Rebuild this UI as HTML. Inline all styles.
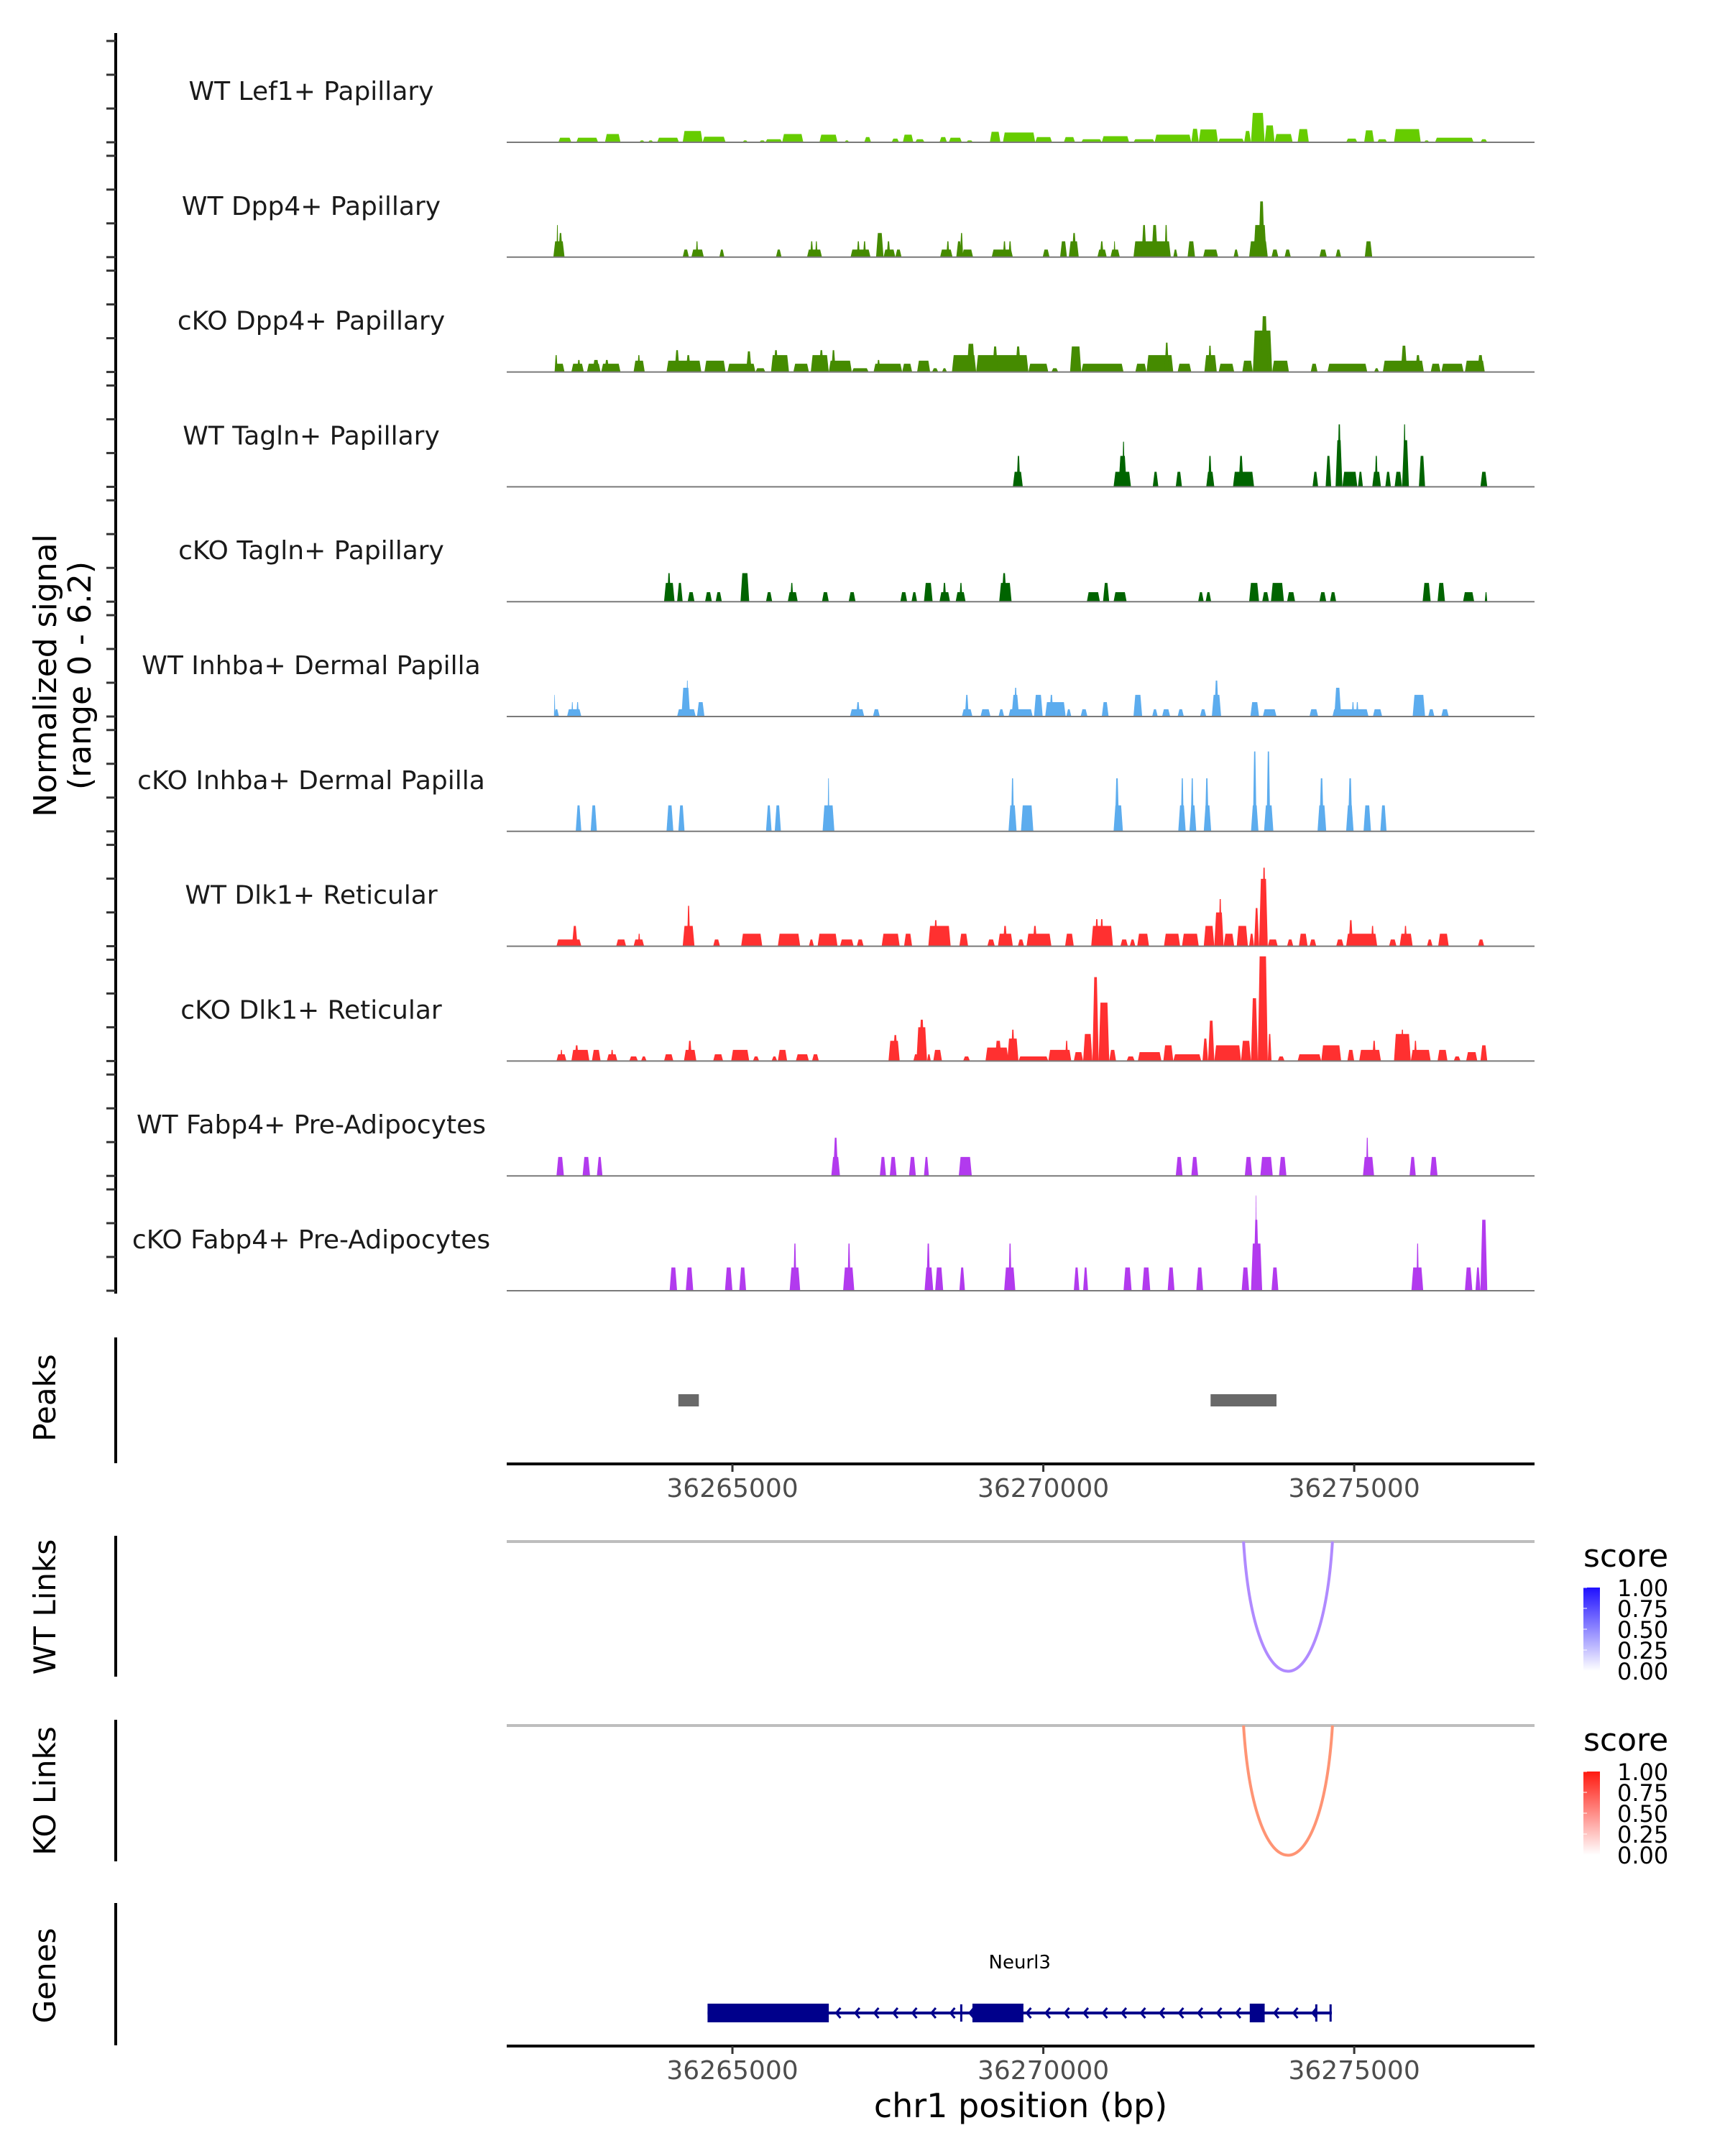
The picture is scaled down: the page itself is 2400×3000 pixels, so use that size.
<!DOCTYPE html>
<html><head><meta charset="utf-8"><style>
html,body{margin:0;padding:0;background:#fff;}
svg{display:block;font-family:"DejaVu Sans","Liberation Sans",sans-serif;}
</style></head><body>
<svg id="chart" width="2400" height="3000" viewBox="0 0 2400 3000" xmlns="http://www.w3.org/2000/svg"></svg>
<script>
// ---- data (positions in kb offset from 36260 kb, heights in normalized signal) ----
const regionOriginKb = 36260;
const regionStartKb = 1.37;
const regionEndKb = 17.90;
const signalMax = 6.2;
const trackLabels = ["WT Lef1+ Papillary","WT Dpp4+ Papillary","cKO Dpp4+ Papillary","WT Tagln+ Papillary","cKO Tagln+ Papillary","WT Inhba+ Dermal Papilla","cKO Inhba+ Dermal Papilla","WT Dlk1+ Reticular","cKO Dlk1+ Reticular","WT Fabp4+ Pre-Adipocytes","cKO Fabp4+ Pre-Adipocytes"];
const trackColors = ["#66CC00","#458B00","#458B00","#006400","#006400","#5CACEE","#5CACEE","#FF3030","#FF3030","#B23AEE","#B23AEE"];
const xTickValues = [36265000, 36270000, 36275000];
const xTickLabels = ["36265000","36270000","36275000"];
const yTickValues = [0, 2, 4, 6];

const wtLef1 = [[2.20,2.41,.27],[2.49,2.84,.27],[2.95,3.20,.49],[3.50,3.59,.11],[3.64,3.73,.11],[3.79,4.14,.27],[4.20,4.52,.67],[4.52,4.89,.33],[5.16,5.25,.11],[5.43,5.53,.11],[5.53,5.80,.18],[5.80,6.14,.49],[6.40,6.69,.45],[6.80,6.88,.11],[7.12,7.23,.31],[7.56,7.68,.22],[7.74,7.91,.45],[7.94,8.09,.18],[8.33,8.45,.31],[8.48,8.69,.27],[8.76,8.87,.11],[9.14,9.31,.62],[9.35,9.87,.58],[9.87,10.14,.31],[10.33,10.51,.31],[10.61,10.94,.18],[10.94,11.38,.36],[11.45,11.79,.18],[11.79,12.38,.45],[12.38,12.50,.8],[12.50,12.81,.76],[12.81,13.23,.22],[13.23,13.34,.67],[13.34,13.56,1.74],[13.56,13.72,1.0],[13.72,14.01,.49],[14.09,14.27,.78],[14.87,15.05,.22],[15.16,15.32,.71],[15.37,15.53,.18],[15.64,16.07,.78],[16.12,16.21,.11],[16.30,16.92,.27],[17.03,17.14,.18]];
const wtDpp4 = [[2.12,2.30,.94],[2.17,2.20,1.9],[2.20,2.27,1.43],[4.20,4.30,.45],[4.34,4.54,.45],[4.41,4.45,.94],[4.79,4.87,.45],[5.70,5.79,.45],[6.20,6.44,.45],[6.25,6.30,.94],[6.33,6.37,.94],[6.90,7.22,.45],[7.00,7.05,.94],[7.10,7.15,.94],[7.31,7.43,1.43],[7.43,7.62,.45],[7.48,7.54,.94],[7.62,7.72,.45],[8.34,8.54,.45],[8.44,8.49,.94],[8.60,8.69,.94],[8.66,8.71,1.43],[8.69,8.87,.45],[9.17,9.51,.45],[9.35,9.40,.94],[9.44,9.49,.94],[9.99,10.10,.45],[10.27,10.38,.94],[10.41,10.57,.94],[10.46,10.53,1.43],[10.87,11.02,.45],[10.91,10.97,.94],[11.08,11.23,.45],[11.13,11.16,.94],[11.45,12.05,.94],[11.58,11.66,1.9],[11.74,11.84,1.9],[11.95,12.00,1.9],[12.09,12.16,.45],[12.32,12.44,.94],[12.57,12.81,.45],[13.06,13.14,.45],[13.31,13.61,.94],[13.38,13.59,1.9],[13.46,13.56,3.3],[13.67,13.78,.45],[13.88,13.98,.45],[14.44,14.56,.45],[14.70,14.79,.45],[15.17,15.29,.94]];
const koDpp4 = [[2.14,2.30,.49],[2.14,2.19,1.0],[2.41,2.61,.49],[2.50,2.56,.71],[2.66,2.88,.49],[2.75,2.86,.71],[2.89,3.20,.49],[2.94,3.02,.71],[3.41,3.59,.67],[3.47,3.52,1.0],[3.94,4.50,.67],[4.07,4.15,1.29],[4.25,4.33,1.0],[4.55,4.89,.67],[4.92,5.37,.49],[5.22,5.31,1.22],[5.37,5.53,.22],[5.62,5.91,1.0],[5.66,5.74,1.29],[5.98,6.23,.49],[6.26,6.55,1.0],[6.39,6.47,1.29],[6.55,6.92,.67],[6.59,6.66,1.29],[6.92,7.19,.22],[7.27,7.73,.49],[7.32,7.38,.71],[7.73,7.89,.49],[7.97,8.18,.67],[8.21,8.31,.22],[8.37,8.45,.22],[8.53,8.92,1.0],[8.77,8.90,1.67],[8.92,9.76,1.0],[9.18,9.27,1.51],[9.55,9.64,1.51],[9.76,10.08,.49],[10.13,10.24,.22],[10.43,10.61,1.51],[10.61,11.29,.49],[11.48,11.66,.49],[11.66,12.09,1.0],[11.95,12.02,1.74],[12.16,12.38,.49],[12.59,12.79,1.0],[12.65,12.71,1.56],[12.82,13.07,.49],[13.20,13.37,.67],[13.37,13.68,2.45],[13.50,13.61,3.3],[13.68,13.95,.67],[14.30,14.41,.49],[14.57,15.21,.49],[15.32,15.40,.22],[15.46,16.12,.67],[15.75,15.85,1.56],[15.98,16.07,1.0],[16.23,16.39,.49],[16.40,16.76,.49],[16.78,17.10,.67],[16.98,17.08,1.0]];
const wtTagln = [[9.51,9.67,.89],[9.57,9.63,1.83],[11.13,11.41,.89],[11.21,11.34,1.83],[11.27,11.31,2.67],[11.76,11.85,.89],[12.13,12.23,.89],[12.62,12.75,.89],[12.65,12.71,1.83],[13.05,13.39,.89],[13.14,13.22,1.83],[14.33,14.42,.89],[14.54,14.63,1.83],[14.70,14.81,2.76],[14.73,14.79,3.7],[14.81,15.05,.89],[15.06,15.14,.89],[15.29,15.43,.89],[15.33,15.38,1.83],[15.50,15.59,.89],[15.65,15.77,.89],[15.77,15.88,2.76],[15.79,15.83,3.7],[16.04,16.14,1.83],[17.03,17.14,.89]];
const koTagln = [[3.90,4.07,1.11],[3.95,4.01,1.69],[4.11,4.20,1.11],[4.28,4.39,.56],[4.56,4.67,.56],[4.73,4.83,.56],[5.13,5.27,1.69],[5.54,5.64,.56],[5.89,6.05,.56],[5.93,5.98,1.11],[6.44,6.55,.56],[6.87,6.98,.56],[7.70,7.81,.56],[7.88,7.97,.56],[8.08,8.22,1.11],[8.33,8.50,.56],[8.38,8.44,1.11],[8.59,8.75,.56],[8.65,8.70,1.11],[9.29,9.49,1.11],[9.33,9.41,1.69],[10.70,10.91,.56],[10.96,11.06,1.11],[11.13,11.34,.56],[12.49,12.58,.56],[12.61,12.70,.56],[13.31,13.47,1.11],[13.52,13.63,.56],[13.66,13.87,1.11],[13.92,14.05,.56],[14.44,14.55,.56],[14.61,14.71,.56],[16.10,16.23,1.11],[16.34,16.46,1.11],[16.75,16.93,.56],[17.10,17.14,.56]];
const wtInhba = [[2.13,2.21,.43],[2.13,2.15,1.28],[2.34,2.57,.43],[2.41,2.44,.85],[2.49,2.53,.85],[4.11,4.41,.43],[4.18,4.32,1.7],[4.26,4.29,2.13],[4.43,4.55,.85],[6.89,7.12,.43],[6.99,7.05,.85],[7.26,7.37,.43],[8.69,8.86,.43],[8.74,8.80,1.28],[8.99,9.15,.43],[9.28,9.37,.43],[9.44,9.83,.43],[9.49,9.61,1.28],[9.53,9.58,1.7],[9.85,9.99,1.28],[10.03,10.36,.85],[10.10,10.16,1.28],[10.37,10.45,.43],[10.60,10.71,.43],[10.94,11.05,.85],[11.45,11.59,1.28],[11.75,11.84,.43],[11.91,12.04,.43],[12.16,12.26,.43],[12.52,12.62,.43],[12.71,12.86,1.28],[12.75,12.82,2.13],[13.33,13.47,.85],[13.53,13.75,.43],[14.28,14.42,.43],[14.65,15.23,.43],[14.68,14.79,1.7],[14.96,15.00,.85],[15.03,15.07,.85],[15.30,15.45,.43],[15.94,16.14,1.28],[16.19,16.29,.43],[16.40,16.52,.43]];
const koInhba = [[2.48,2.57,1.54],[2.72,2.82,1.54],[3.94,4.05,1.54],[4.13,4.23,1.54],[5.54,5.63,1.54],[5.68,5.78,1.54],[6.45,6.64,1.54],[6.53,6.56,3.14],[9.44,9.57,1.54],[9.48,9.53,3.14],[9.64,9.84,1.54],[11.13,11.28,1.54],[11.15,11.22,3.14],[12.17,12.29,1.54],[12.21,12.26,3.14],[12.35,12.46,1.54],[12.37,12.42,3.14],[12.58,12.70,1.54],[12.60,12.66,3.14],[13.34,13.46,1.54],[13.37,13.43,4.73],[13.55,13.70,1.54],[13.59,13.65,4.73],[14.41,14.55,1.54],[14.44,14.51,3.14],[14.87,14.99,1.54],[14.90,14.97,3.14],[15.15,15.27,1.54],[15.42,15.52,1.54]];
const wtDlk1 = [[2.17,2.57,.4],[2.42,2.51,1.2],[3.13,3.29,.4],[3.41,3.58,.4],[3.48,3.52,.74],[4.20,4.39,1.2],[4.27,4.32,2.39],[4.69,4.80,.4],[5.14,5.48,.74],[5.73,6.09,.74],[6.23,6.31,.4],[6.37,6.69,.74],[6.73,6.95,.4],[7.00,7.11,.4],[7.40,7.69,.74],[7.76,7.89,.74],[8.15,8.51,1.2],[8.24,8.30,1.54],[8.65,8.79,.74],[9.10,9.22,.4],[9.27,9.51,.74],[9.35,9.42,1.2],[9.59,9.69,.4],[9.73,10.13,.74],[9.83,9.90,1.2],[10.35,10.49,.74],[10.77,11.12,1.2],[10.83,10.89,1.6],[10.91,10.97,1.6],[11.24,11.36,.4],[11.39,11.48,.4],[11.51,11.70,.74],[11.94,12.20,.74],[12.23,12.50,.74],[12.58,12.75,1.2],[12.75,12.90,2.0],[12.82,12.87,2.79],[12.90,13.07,.74],[13.11,13.29,1.2],[13.31,13.39,.74],[13.39,13.47,2.26],[13.47,13.61,3.99],[13.52,13.58,4.65],[13.61,13.77,.4],[13.92,14.02,.4],[14.11,14.25,.74],[14.28,14.39,.4],[14.71,14.83,.4],[14.87,15.37,.74],[14.91,14.98,1.54],[15.27,15.32,1.2],[15.56,15.68,.4],[15.73,15.94,.74],[15.80,15.85,1.2],[16.17,16.26,.4],[16.35,16.52,.74],[16.99,17.09,.4]];
const koDlk1 = [[2.17,2.33,.4],[2.23,2.27,.66],[2.41,2.70,.66],[2.46,2.53,.93],[2.74,2.88,.66],[2.98,3.15,.4],[3.04,3.09,.66],[3.34,3.48,.27],[3.53,3.62,.27],[3.90,4.05,.4],[4.22,4.42,.66],[4.28,4.35,1.2],[4.69,4.85,.4],[4.98,5.27,.66],[5.33,5.43,.27],[5.63,5.72,.27],[5.73,5.88,.66],[6.02,6.23,.4],[6.28,6.39,.4],[7.51,7.69,1.2],[7.58,7.66,1.54],[7.91,7.99,.4],[7.96,8.13,2.0],[8.00,8.09,2.45],[8.13,8.19,.4],[8.23,8.37,.66],[8.71,8.82,.27],[9.07,9.44,.8],[9.22,9.33,1.2],[9.42,9.60,1.33],[9.48,9.54,1.86],[9.60,10.08,.27],[10.08,10.45,.66],[10.35,10.40,1.2],[10.49,10.64,.53],[10.64,10.79,1.6],[10.79,10.89,4.97],[10.89,11.06,3.46],[11.06,11.17,.66],[11.34,11.47,.27],[11.52,11.90,.53],[11.93,12.09,.93],[12.09,12.54,.4],[12.56,12.65,1.33],[12.65,12.75,2.39],[12.75,13.18,.93],[13.18,13.34,1.2],[13.34,13.45,3.72],[13.45,13.61,6.2],[13.61,13.67,1.6],[13.77,13.88,.27],[14.09,14.47,.4],[14.47,14.79,.93],[14.89,15.00,.66],[15.08,15.43,.66],[15.29,15.35,1.2],[15.64,15.91,1.6],[15.75,15.80,1.86],[15.91,16.23,.66],[15.96,16.01,1.2],[16.34,16.50,.66],[16.60,16.71,.27],[16.80,16.98,.53],[17.03,17.14,.93]];
const wtFabp4 = [[2.17,2.29,1.12],[2.59,2.71,1.12],[2.82,2.91,1.12],[6.59,6.73,1.12],[6.62,6.70,2.26],[7.37,7.47,1.12],[7.53,7.64,1.12],[7.84,7.95,1.12],[8.08,8.16,1.12],[8.64,8.85,1.12],[12.13,12.24,1.12],[12.38,12.49,1.12],[13.24,13.36,1.12],[13.49,13.69,1.12],[13.79,13.91,1.12],[15.14,15.32,1.12],[15.19,15.23,2.26],[15.89,15.99,1.12],[16.22,16.34,1.12]];
const koFabp4 = [[3.99,4.11,1.38],[4.25,4.37,1.38],[4.88,5.00,1.38],[5.11,5.22,1.38],[5.92,6.09,1.38],[5.98,6.03,2.79],[6.78,6.96,1.38],[6.85,6.90,2.79],[8.09,8.23,1.38],[8.12,8.18,2.79],[8.26,8.39,1.38],[8.65,8.74,1.38],[9.37,9.55,1.38],[9.44,9.49,2.79],[10.49,10.58,1.38],[10.64,10.72,1.38],[11.29,11.42,1.38],[11.59,11.72,1.38],[12.00,12.11,1.38],[12.46,12.57,1.38],[13.19,13.31,1.38],[13.34,13.52,2.79],[13.38,13.47,4.2],[13.41,13.43,5.64],[13.67,13.78,1.38],[15.92,16.11,1.38],[16.00,16.04,2.79],[16.78,16.90,1.38],[16.95,17.03,1.38],[17.03,17.14,4.2]];
const trackSegments = [wtLef1, wtDpp4, koDpp4, wtTagln, koTagln, wtInhba, koInhba, wtDlk1, koDlk1, wtFabp4, koFabp4];

const peakRegions = [[4.13,4.46],[12.69,13.75]];
const wtLinks = [[13.22,14.65,0.45]];
const koLinks = [[13.22,14.65,0.45]];
const geneName = "Neurl3";
const geneSpan = [4.60, 14.64];
const geneExons = [[4.60,6.55],[8.86,9.68],[13.32,13.56]];
const geneMarks = [8.68, 14.39, 14.62];
const legendTicks = [1.00, 0.75, 0.50, 0.25, 0.00];
const legendTickLabels = ["1.00","0.75","0.50","0.25","0.00"];

// ---- scales ----
const NS = "http://www.w3.org/2000/svg";
const svg = document.getElementById("chart");
const panelLeft = 705, panelRight = 2135;
function xScale(kb){ return panelLeft + (kb - regionStartKb) / (regionEndKb - regionStartKb) * (panelRight - panelLeft); }
function xScaleBp(bp){ return xScale(bp/1000 - regionOriginKb); }
const trackBase0 = 198, trackStep = 159.8, pxPerUnit = 23.5;
function trackBase(i){ return trackBase0 + i*trackStep; }
function yScale(i, v){ return trackBase(i) - v*pxPerUnit; }
function mk(tag, attrs, parent){ const e=document.createElementNS(NS, tag); for(const k in attrs) e.setAttribute(k, attrs[k]); (parent||svg).appendChild(e); return e; }

// ---- signal y-axis ----
const yAxis = mk("line",{x1:161,y1:46,x2:161,y2:1800,stroke:"#000","stroke-width":4});


for(let i=0;i<trackLabels.length;i++){
  for(const t of yTickValues){
    const tk = mk("line",{x1:148,x2:161,y1:yScale(i,t),y2:yScale(i,t),stroke:"#333","stroke-width":3});
    
    
  }
}
const yt = mk("text",{transform:"translate(78,940) rotate(-90)","text-anchor":"middle","font-size":44,fill:"#000"});
yt.textContent="Normalized signal";


const yt2 = mk("text",{transform:"translate(126,940) rotate(-90)","text-anchor":"middle","font-size":44,fill:"#000"});
yt2.textContent="(range 0 - 6.2)";



// ---- tracks ----
for(let i=0;i<trackLabels.length;i++){
  const g = mk("g",{});
  
  
  const lbl = mk("text",{x:433,y:trackBase(i)-59,"text-anchor":"middle","font-size":36,fill:"#1a1a1a"},g);
  lbl.textContent = trackLabels[i];
  
  
  for(const s of trackSegments[i]){
    const x1=xScale(s[0]), x2=xScale(s[1]), yb=trackBase(i), yt=yScale(i, Math.min(s[2], signalMax));
    const tp = Math.min(2.5,(x2-x1)/3);
    const p = mk("polygon",{points:`${x1},${yb} ${x1+tp},${yt} ${x2-tp},${yt} ${x2},${yb}`,fill:trackColors[i]},g);
    
    
  }
  const bl = mk("line",{x1:panelLeft,x2:panelRight,y1:trackBase(i),y2:trackBase(i),stroke:"#7a7a7a","stroke-width":2},g);
  
  
}

// ---- side axes & titles for lower panels ----
const sidePanels = [["Peaks",1861,2036,1945],["WT Links",2137,2333,2236],["KO Links",2393,2590,2492],["Genes",2648,2846,2749]];
for(const sp of sidePanels){
  const l = mk("line",{x1:161,x2:161,y1:sp[1],y2:sp[2],stroke:"#000","stroke-width":4});
  
  
  const t = mk("text",{transform:`translate(77,${sp[3]}) rotate(-90)`,"text-anchor":"middle","font-size":42,fill:"#000"});
  t.textContent = sp[0];
  
  
}

// ---- peaks ----
for(const pk of peakRegions){
  const r = mk("rect",{x:xScale(pk[0]),y:1940,width:xScale(pk[1])-xScale(pk[0]),height:17,fill:"#696969"});
  
  
}

// ---- x axes ----
function xAxis(y, name){
  const a = mk("line",{x1:panelLeft,x2:panelRight,y1:y,y2:y,stroke:"#000","stroke-width":4});
  
  
  xTickValues.forEach((v,k)=>{
    const x = xScaleBp(v);
    const tk = mk("line",{x1:x,x2:x,y1:y,y2:y+11,stroke:"#333","stroke-width":3});
    
    
    const tl = mk("text",{x:x,y:y+46,"text-anchor":"middle","font-size":36,fill:"#4d4d4d"});
    tl.textContent = xTickLabels[k];
    
    
  });
}
xAxis(2037,'peaks-x-axis');
xAxis(2847,'genes-x-axis');
const xt = mk("text",{x:1420,y:2946,"text-anchor":"middle","font-size":46,fill:"#000"});
xt.textContent="chr1 position (bp)";



// ---- links ----
function linkPanel(top, links, color, name){
  const gl = mk("line",{x1:panelLeft,x2:panelRight,y1:top,y2:top,stroke:"#bebebe","stroke-width":4});
  
  
  for(const lk of links){
    const x1=xScale(lk[0]), x2=xScale(lk[1]), depth=181;
    const p = mk("path",{d:`M${x1},${top} C${x1+ (x2-x1)*0.12},${top+depth*1.33} ${x2-(x2-x1)*0.12},${top+depth*1.33} ${x2},${top}`,fill:"none",stroke:color,"stroke-width":4});
    
    
  }
}
linkPanel(2145, wtLinks, "#B08AFF", 'wt-link');
linkPanel(2401, koLinks, "#FF9474", 'ko-link');

// ---- legends ----
const defs = mk("defs",{});
function grad(id, c){ const g = mk("linearGradient",{id:id,x1:0,y1:1,x2:0,y2:0},defs); mk("stop",{offset:"0",["stop-color"]:"#ffffff"},g); mk("stop",{offset:"1",["stop-color"]:c},g); }
grad("gBlue","#1f10ff"); grad("gRed","#ff1a10");
function legend(y0, gid, name){
  const t = mk("text",{x:2203,y:y0,"font-size":44,fill:"#000"});
  t.textContent="score";
  
  
  const by = y0+29, bh = 116;
  const r = mk("rect",{x:2203,y:by,width:23,height:bh,fill:`url(#${gid})`});
  
  
  legendTicks.forEach((v,k)=>{
    const yy = by + (1-v)*bh;
    const tl = mk("text",{x:2250,y:yy+12,"font-size":32,fill:"#000"});
    tl.textContent = legendTickLabels[k];
    
    
    const tk = mk("line",{x1:2203,x2:2208,y1:yy,y2:yy,stroke:"#fff","stroke-width":1});
    
    
  });
}
legend(2180,"gBlue",'wt-legend');
legend(2436,"gRed",'ko-legend');

// ---- gene ----
const gy = 2801, navy = "#00008B";
const gname = mk("text",{x:(xScale(geneSpan[0])+xScale(geneSpan[1]))/2,y:2739,"text-anchor":"middle","font-size":26,fill:"#000"});
gname.textContent = geneName;


const gline = mk("line",{x1:xScale(geneSpan[0]),x2:xScale(geneSpan[1]),y1:gy,y2:gy,stroke:navy,"stroke-width":4});


for(let x=xScale(geneSpan[0])+20; x<xScale(geneSpan[1])-6; x+=26.5){
  const c = mk("polyline",{points:`${x+6},${gy-7} ${x},${gy} ${x+6},${gy+7}`,fill:"none",stroke:navy,"stroke-width":3});
  
  
}
for(const m of geneMarks){
  const l = mk("line",{x1:xScale(m),x2:xScale(m),y1:gy-12,y2:gy+12,stroke:navy,"stroke-width":3});
  
  
}
for(const ex of geneExons){
  const r = mk("rect",{x:xScale(ex[0]),y:gy-13,width:xScale(ex[1])-xScale(ex[0]),height:26,fill:navy});
  
  
}
</script>
</body></html>
